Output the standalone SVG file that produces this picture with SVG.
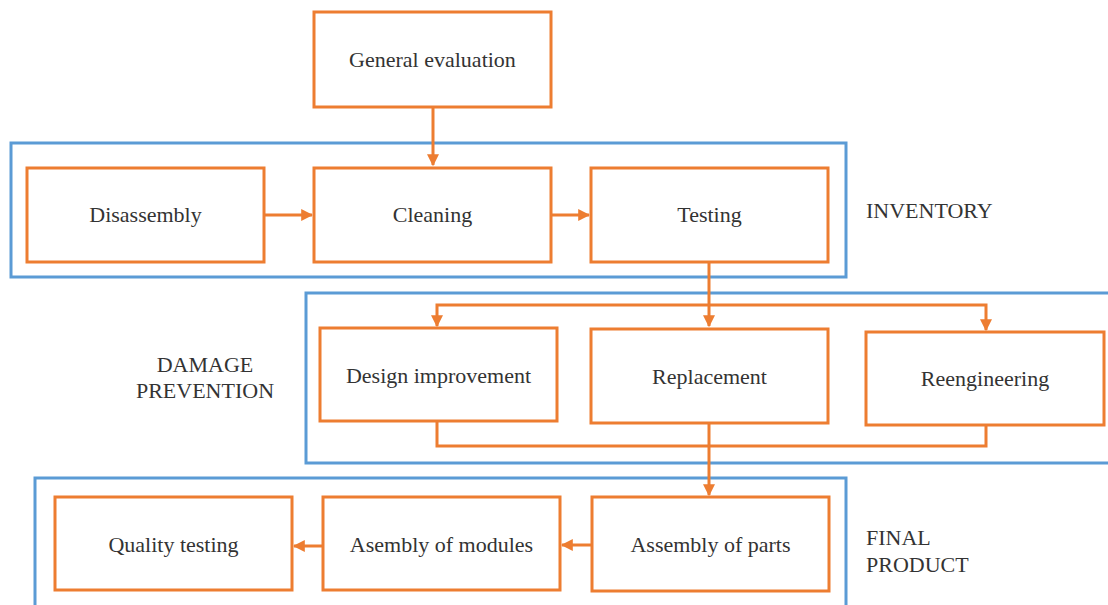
<svg xmlns="http://www.w3.org/2000/svg" width="1108" height="605" viewBox="0 0 1108 605">
<style>
.grp{fill:none;stroke:#5B9BD5;stroke-width:3}
.box{fill:#fff;stroke:#ED7D31;stroke-width:3}
text{font-family:'Liberation Serif','DejaVu Serif',serif;font-size:22px;fill:#333}
.lbl{text-anchor:middle}
.con{fill:none;stroke:#ED7D31;stroke-width:3}
</style>
<defs>
<marker id="ah" viewBox="0 0 10 10" refX="9" refY="5" markerWidth="4" markerHeight="4" orient="auto" markerUnits="strokeWidth">
<path d="M0,0 L10,5 L0,10 z" fill="#ED7D31"/>
</marker>
</defs>
<rect width="1108" height="605" fill="#fff"/>
<g id="groups">
<rect class="grp" x="11" y="143" width="835" height="134"/>
<rect class="grp" x="306" y="293" width="806" height="170"/>
<rect class="grp" x="35" y="478" width="811" height="140"/>
<text x="866" y="218">INVENTORY</text>
<text x="205" y="372" text-anchor="middle">DAMAGE</text>
<text x="205" y="398" text-anchor="middle">PREVENTION</text>
<text x="866" y="545">FINAL</text>
<text x="866" y="572">PRODUCT</text>
</g>
<g id="connectors">
<path class="con" d="M433,107 V165" marker-end="url(#ah)"/>
<path class="con" d="M264,215 H312" marker-end="url(#ah)"/>
<path class="con" d="M551,215 H589" marker-end="url(#ah)"/>
<path class="con" d="M709,262 V326" marker-end="url(#ah)"/>
<path class="con" d="M709,305 H437 V326" marker-end="url(#ah)"/>
<path class="con" d="M709,305 H986 V330" marker-end="url(#ah)"/>
<path class="con" d="M437,421 V446 H986 V425"/>
<path class="con" d="M709,423 V495" marker-end="url(#ah)"/>
<path class="con" d="M592,545 H562" marker-end="url(#ah)"/>
<path class="con" d="M323,546 H294" marker-end="url(#ah)"/>
</g>
<g id="general-evaluation"><rect class="box" x="314" y="12" width="237" height="95"/><text class="lbl" x="432.5" y="67">General  evaluation</text></g>
<g id="disassembly"><rect class="box" x="27" y="168" width="237" height="94"/><text class="lbl" x="145.5" y="222">Disassembly</text></g>
<g id="cleaning"><rect class="box" x="314" y="168" width="237" height="94"/><text class="lbl" x="432.5" y="222">Cleaning</text></g>
<g id="testing"><rect class="box" x="591" y="168" width="237" height="94"/><text class="lbl" x="709.5" y="222">Testing</text></g>
<g id="design-improvement"><rect class="box" x="320" y="328" width="237" height="93"/><text class="lbl" x="438.5" y="383">Design  improvement</text></g>
<g id="replacement"><rect class="box" x="591" y="329" width="237" height="94"/><text class="lbl" x="709.5" y="384">Replacement</text></g>
<g id="reengineering"><rect class="box" x="866" y="332" width="238" height="93"/><text class="lbl" x="985" y="386">Reengineering</text></g>
<g id="quality-testing"><rect class="box" x="55" y="497" width="237" height="93"/><text class="lbl" x="173.5" y="552">Quality  testing</text></g>
<g id="asembly-of-modules"><rect class="box" x="323" y="497" width="237" height="93"/><text class="lbl" x="441.5" y="552">Asembly  of  modules</text></g>
<g id="assembly-of-parts"><rect class="box" x="592" y="497" width="237" height="94"/><text class="lbl" x="710.5" y="552">Assembly  of  parts</text></g>
</svg>
